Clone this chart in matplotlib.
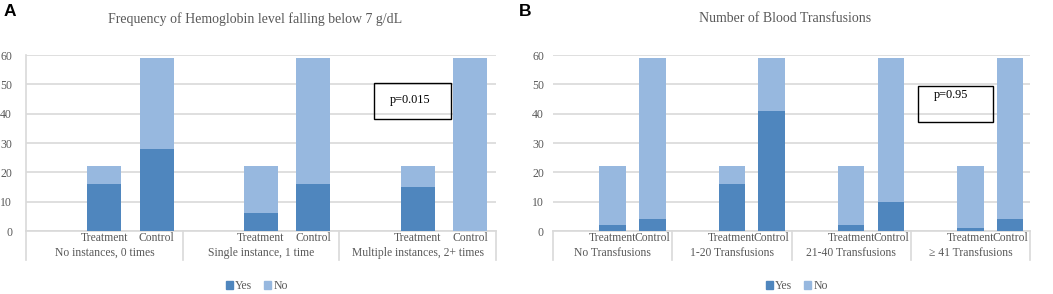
import matplotlib
matplotlib.use('Agg')
import matplotlib.pyplot as plt
from matplotlib.patches import Rectangle, Patch
import matplotlib.transforms as mtrans

# Painel A - hemoglobina < 7 g/dL
grupos_a = ['No instances, 0 times', 'Single instance, 1 time', 'Multiple instances, 2+ times']
trat_sim_a = [16, 6, 15]
trat_nao_a = [6, 16, 7]
ctrl_sim_a = [28, 16, 0]
ctrl_nao_a = [31, 43, 59]

# Painel B - transfusoes
grupos_b = ['No Transfusions', '1-20 Transfusions', '21-40 Transfusions', '\u2265 41 Transfusions']
trat_sim_b = [2, 16, 2, 1]
trat_nao_b = [20, 6, 20, 21]
ctrl_sim_b = [4, 41, 10, 4]
ctrl_nao_b = [55, 18, 49, 55]

subcategorias = ['Treatment', 'Control']
legenda = ['Yes', 'No']
titulo_a = 'Frequency of Hemoglobin level falling below 7 g/dL'
titulo_b = 'Number of Blood Transfusions'
p_a = 'p=0.015'
p_b = 'p=0.95'

COR_SIM = '#4F86BE'
COR_NAO = '#97B8DF'
CINZA = '#595959'
GRADE = '#D9D9D9'
W, H = 1053, 294
SERIF = 'Liberation Serif'


def fx(px):
    return px / W


def fy(py):
    return 1 - py / H


def painel(fig, x0, x1, grupos, ts, tn, cs, cn, largura, linha_esq, pad_tick):
    y0, y1 = 55, 231
    ax = fig.add_axes([fx(x0), fy(y1), fx(x1) - fx(x0), (y1 - y0) / H])
    n = len(grupos)
    xt = [g * 3 + 1 for g in range(n)]
    xc = [g * 3 + 2 for g in range(n)]
    ax.bar(xt, ts, largura, color=COR_SIM, zorder=3)
    ax.bar(xt, tn, largura, bottom=ts, color=COR_NAO, zorder=3)
    ax.bar(xc, cs, largura, color=COR_SIM, zorder=3)
    ax.bar(xc, cn, largura, bottom=cs, color=COR_NAO, zorder=3)
    ax.set_xlim(-0.5, 3 * n - 0.5)
    ax.set_ylim(0, 60)
    ax.set_yticks(range(0, 61, 10))
    ax.set_xticks([])
    ax.yaxis.grid(True, color=GRADE, lw=1.2, zorder=0)
    for lado in ['top', 'right', 'left']:
        ax.spines[lado].set_visible(False)
    if linha_esq:
        ax.spines['left'].set_visible(True)
        ax.spines['left'].set_color(GRADE)
        ax.spines['left'].set_linewidth(1.2)
    ax.spines['bottom'].set_color(GRADE)
    ax.spines['bottom'].set_linewidth(1.2)
    ax.tick_params(axis='y', length=0, pad=pad_tick, labelsize=8.5, labelcolor=CINZA)
    for lab in ax.get_yticklabels():
        lab.set_family(SERIF)
    trans = mtrans.blended_transform_factory(ax.transData, ax.transAxes)
    for g in range(n + 1):
        ax.plot([g * 3 - 0.5, g * 3 - 0.5], [0, -0.165], color=GRADE, lw=1.2,
                transform=trans, clip_on=False)
    for g in range(n):
        ax.text(xt[g], -0.04, subcategorias[0], transform=trans, ha='center', va='center',
                fontsize=8.4, color=CINZA, family=SERIF)
        ax.text(xc[g], -0.04, subcategorias[1], transform=trans, ha='center', va='center',
                fontsize=8.4, color=CINZA, family=SERIF)
        ax.text(g * 3 + 1, -0.125, grupos[g], transform=trans, ha='center', va='center',
                fontsize=8.4, color=CINZA, family=SERIF)
    return ax


fig = plt.figure(figsize=(W / 100, H / 100), dpi=100)

painel(fig, 26, 496, grupos_a, trat_sim_a, trat_nao_a, ctrl_sim_a, ctrl_nao_a, 0.65, True, 10)
painel(fig, 553, 1030, grupos_b, trat_sim_b, trat_nao_b, ctrl_sim_b, ctrl_nao_b, 0.67, False, 6.5)

# letras e titulos
fig.text(fx(4), fy(12), 'A', fontsize=12.5, fontweight='bold', family='Liberation Sans', va='center')
fig.text(fx(519), fy(12), 'B', fontsize=12.5, fontweight='bold', family='Liberation Sans', va='center')
fig.text(fx(255), fy(19), titulo_a, fontsize=10, color=CINZA, family=SERIF, ha='center', va='center')
fig.text(fx(785), fy(19), titulo_b, fontsize=10, color=CINZA, family=SERIF, ha='center', va='center')

# caixas do p-valor
fig.patches.append(Rectangle((fx(374), fy(119)), fx(451) - fx(374), (119 - 83) / H,
                             transform=fig.transFigure, fill=False, ec='black', lw=1.0))
fig.text(fx(410), fy(100), p_a, fontsize=8.8, family=SERIF, ha='center', va='center')
fig.patches.append(Rectangle((fx(918), fy(122)), fx(993) - fx(918), (122 - 86) / H,
                             transform=fig.transFigure, fill=False, ec='black', lw=1.0))
fig.text(fx(951), fy(95), p_b, fontsize=8.8, family=SERIF, ha='center', va='center')

# legendas
alcas = [Patch(color=COR_SIM), Patch(color=COR_NAO)]
for cx in [257, 797]:
    fig.legend(alcas, legenda, loc='center', bbox_to_anchor=(fx(cx), fy(286)), ncol=2,
               frameon=False, handlelength=0.6, handleheight=0.6, handletextpad=0.2,
               columnspacing=1.0, prop={'family': SERIF, 'size': 8.5}, labelcolor=CINZA)

fig.savefig('out.png', dpi=100)
